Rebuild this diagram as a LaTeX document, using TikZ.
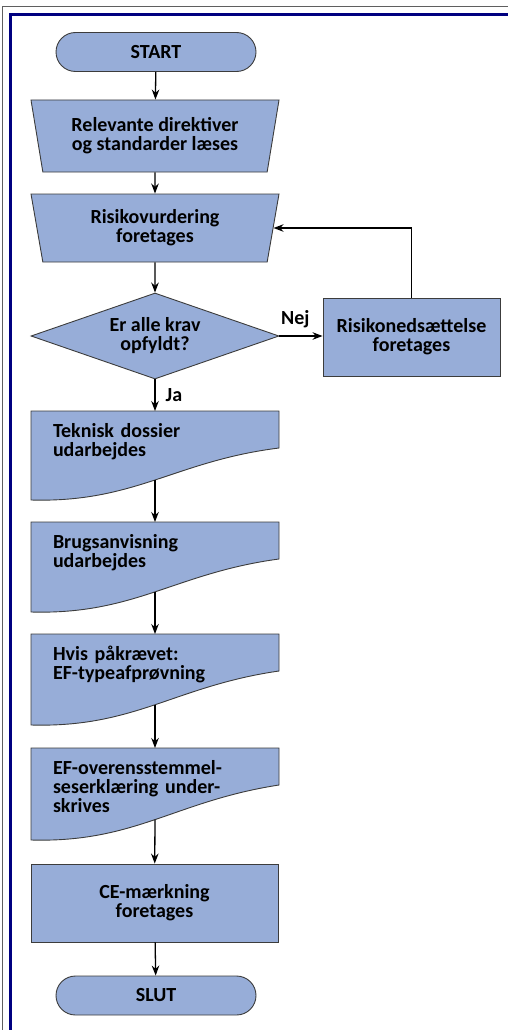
\documentclass[tikz,border=0pt]{standalone}
\usepackage{fontspec}
\setmainfont{Carlito}
\usetikzlibrary{shapes.geometric,arrows.meta,backgrounds,calc}

\definecolor{boxblue}{RGB}{151,173,216}
\definecolor{edgegray}{RGB}{60,60,60}
\definecolor{framenavy}{RGB}{0,0,128}
\definecolor{framegray}{RGB}{95,95,95}

\newcommand{\flowfont}{\fontsize{20}{19}\selectfont\bfseries}

% document outline behind a docbox node: name, left height, exit point
\newcommand{\docshape}[3]{%
  \filldraw[fill=boxblue, draw=edgegray, line width=0.9pt]
    (#1.north west) -- (#1.north east) -- ($(#1.north west)+(248,37)$)
    .. controls ($(#1.north west)+(144,#2-39)$) and ($(#1.north west)+(104,#2+3)$) ..
    ($(#1.north west)+(0,#2)$) coordinate[pos=0.5] (#3) -- cycle;}

\begin{document}
\begin{tikzpicture}[x=1pt, y=-1pt,
    box/.style={draw=edgegray, fill=boxblue, line width=0.9pt, font=\flowfont, align=center, inner sep=0pt},
    term/.style={box, rounded corners=19.5pt, minimum width=200pt, minimum height=39pt},
    trap/.style={box, trapezium, shape border rotate=180, trapezium angle=72,
                 trapezium stretches body, minimum width=248pt},
    docbox/.style={font=\flowfont, align=left, text width=204pt, inner xsep=22pt,
                   inner ysep=12pt, outer sep=0pt, anchor=north west},
    lbl/.style={font=\flowfont, inner sep=2pt},
    arr/.style={-{Stealth[length=10pt, width=7.5pt]}, line width=1.3pt}]

  \useasboundingbox (0,0) rectangle (508,1030);

  % frame
  \draw[framegray, line width=1.2pt] (2.5,1030) -- (2.5,6.5) -- (508,6.5);
  \draw[framenavy, line width=3pt] (10.5,1030) -- (10.5,14.3) -- (508,14.3);

  \node[term] (start) at (156,52) {START};
  \node[trap, minimum height=72pt] (direk) at (155,136) {Relevante direktiver\\og standarder læses};
  \node[trap, minimum height=68pt] (vurd) at (155,228) {Risikovurdering\\foretages};
  \node[box, diamond, aspect=2.88, minimum width=248pt, minimum height=86pt] (krav) at (155,336) {Er alle krav\\opfyldt?};
  \node[box, minimum width=177pt, minimum height=78pt] (ned) at (411.5,337) {Risikonedsættelse\\foretages};

  \node[docbox] (tekn) at (31,411) {Teknisk dossier\\udarbejdes};
  \node[docbox] (brug) at (31,522) {Brugsanvisning\\udarbejdes};
  \node[docbox] (type) at (31,634) {Hvis påkrævet:\\EF-typeafprøvning};
  \node[docbox] (erkl) at (31,748) {EF-overensstemmel-\\seserklæring under-\\skrives};

  \begin{scope}[on background layer]
    \docshape{tekn}{89}{teknout}
    \docshape{brug}{90}{brugout}
    \docshape{type}{91}{typeout}
    \docshape{erkl}{92}{erklout}
  \end{scope}

  \node[box, minimum width=247pt, minimum height=78pt] (ce) at (154.5,903) {CE-mærkning\\foretages};
  \node[term] (slut) at (156,995.5) {SLUT};

  \draw[arr] (start) -- (direk);
  \draw[arr] (direk) -- (vurd);
  \draw[arr] (vurd) -- (krav);
  \draw[arr] (krav.east) -- node[lbl, above, pos=0.37, yshift=5pt] (nej) {Nej} (krav.east -| ned.west);
  \draw[arr] (ned.north) |- (vurd.east);
  \draw[arr] (krav.south) -- node[lbl, right, xshift=8pt] (ja) {Ja} (tekn.north);
  \draw[arr] (teknout) -- (brug.north);
  \draw[arr] (brugout) -- (type.north);
  \draw[arr] (typeout) -- (erkl.north);
  \draw[arr] (erklout) -- (ce);
  \draw[arr] (ce) -- (slut);

\end{tikzpicture}
\end{document}
